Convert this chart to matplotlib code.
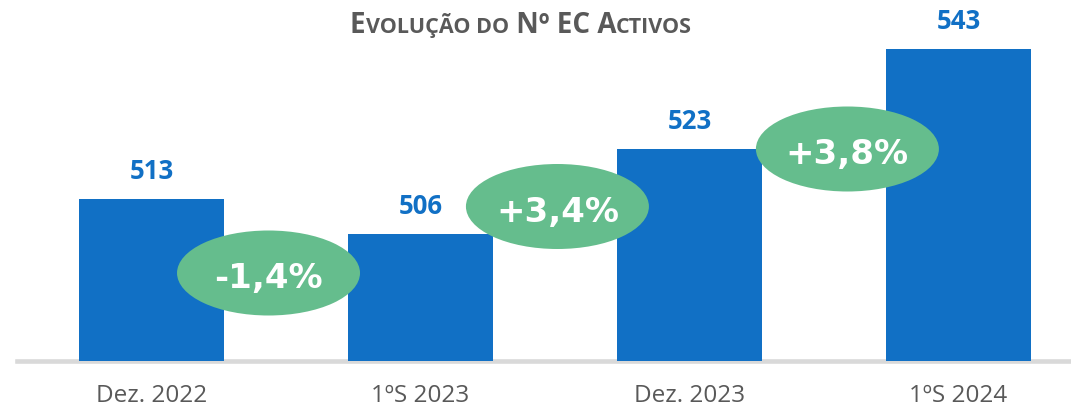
import matplotlib
matplotlib.use("Agg")
import matplotlib.pyplot as plt
from matplotlib.patches import Ellipse

# ---- data ----
categories = ["Dez. 2022", "1ºS 2023", "Dez. 2023", "1ºS 2024"]
values = [513, 506, 523, 543]
pct_labels = ["-1,4%", "+3,4%", "+3,8%"]
title_parts = [("E", "big"), ("VOLUÇÃO DO", "small"), (" Nº EC A", "big"), ("CTIVOS", "small")]

# ---- style ----
BLUE = "#1170C5"
GREEN = "#65BD8D"
GREY_TXT = "#595959"
GREY_LINE = "#D9D9D9"
FONT = "Open Sans"

W, H, DPI = 1071, 408, 100
fig = plt.figure(figsize=(W / DPI, H / DPI), dpi=DPI)

ax_bottom_px = 361.3
ax = fig.add_axes([17 / W, (H - ax_bottom_px) / H, 1076 / W, ax_bottom_px / H])
ymin = 481 - 2.3 / 5
ax.set_xlim(-0.5, 3.5)
ax.set_ylim(ymin, ymin + ax_bottom_px / 5)

x = list(range(len(values)))
ax.bar(x, values, width=145 / 269, color=BLUE, zorder=2)

for xi, v in zip(x, values):
    ax.annotate(str(v), (xi, v), xytext=(0, 14.4), textcoords="offset points",
                ha="center", va="baseline", color=BLUE, fontsize=18.5,
                fontfamily=FONT, fontweight="bold", zorder=5)

# percentage-change bubbles (layout positions)
bubble_x = [0.435, 1.509, 2.587]
bubble_y = [498.2, 511.5, 523.0]
for bx, by, lab in zip(bubble_x, bubble_y, pct_labels):
    e = Ellipse((bx, by), width=183 / 269, height=85 / 5, facecolor=GREEN,
                edgecolor="none", zorder=6)
    ax.add_patch(e)
    ax.annotate(lab, (bx, by), xytext=(0, -10.8), textcoords="offset points",
                ha="center", va="baseline", color="white", fontsize=24.5,
                fontfamily="DejaVu Sans", fontweight="bold", zorder=7)

for s in ["top", "left", "right"]:
    ax.spines[s].set_visible(False)
ax.spines["bottom"].set_color(GREY_LINE)
ax.spines["bottom"].set_linewidth(3.3)
ax.spines["bottom"].set_zorder(1)
ax.set_yticks([])
ax.set_xticks(x)
ax.set_xticklabels(categories, fontsize=17.5, fontfamily=FONT, color=GREY_TXT)
ax.tick_params(axis="x", length=0, pad=16.5)
ax.patch.set_alpha(0)

# ---- small-caps title ----
renderer = fig.canvas.get_renderer()
sizes = {"big": 20, "small": 15.5}
texts = []
for s, kind in title_parts:
    t = fig.text(0, 0, s, fontsize=sizes[kind], fontfamily=FONT, fontweight="bold",
                 color=GREY_TXT, ha="left", va="baseline")
    texts.append(t)
widths = [t.get_window_extent(renderer).width for t in texts]
total = sum(widths)
center_px = 521
base_y = (H - 33) / H
cur = center_px - total / 2
for t, w in zip(texts, widths):
    t.set_position((cur / W, base_y))
    cur += w

fig.savefig("out.png", dpi=DPI)
